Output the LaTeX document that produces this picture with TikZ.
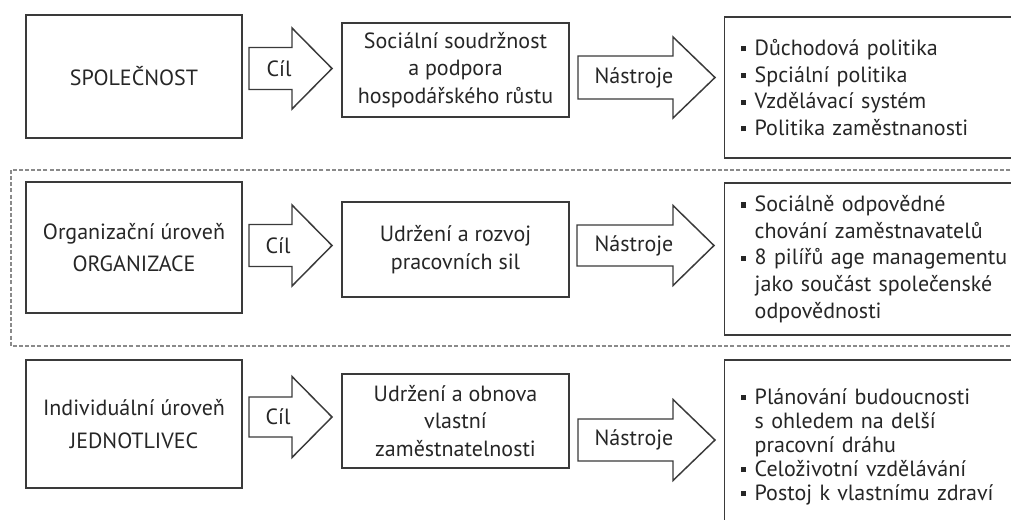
\documentclass[tikz,border=0pt]{standalone}
\usepackage{fontspec}
\setmainfont{PT Sans}
\usetikzlibrary{calc}
\definecolor{ink}{HTML}{262626}
\definecolor{edge}{HTML}{3A3A3A}
\definecolor{dashc}{HTML}{8A8A8A}
\newcommand{\bul}{\makebox[10.5pt][l]{\raisebox{0.18em}{\rule{3.8pt}{3.8pt}}}}
\newcommand{\cont}{\hspace*{10.5pt}}
% block arrow: name, x0, xhead, xtip, ycenter, shaft half, head half, label x, label
\newcommand{\blockarrow}[9]{%
  \draw[barrow] (#2,#5-#6) -- (#3,#5-#6) -- (#3,#5-#7) -- (#4,#5) -- (#3,#5+#7) -- (#3,#5+#6) -- (#2,#5+#6) -- cycle;
  \node[alabel] (#1) at (#8,#5) {#9};}
\begin{document}
\begin{tikzpicture}[x=0.75pt,y=-0.75pt,
 box/.style={draw=edge, line width=1.1pt, inner sep=0pt, text=ink, align=center, fill=white},
 lbox/.style={box, minimum width=162pt, font=\fontsize{16.5}{24.5}\selectfont},
 mbox/.style={box, minimum width=170.25pt, font=\fontsize{16.5}{20.5}\selectfont},
 rbox/.style={box, anchor=west, align=left, text width=240pt, inner xsep=12pt, font=\fontsize{16.5}{20}\selectfont},
 barrow/.style={draw=edge, line width=1.1pt, fill=white, line join=miter},
 alabel/.style={text=ink, font=\fontsize{16.5}{20}\selectfont, inner sep=0pt},
 dashbox/.style={draw=dashc, line width=0.8pt, dash pattern=on 3pt off 1.6pt}]
\useasboundingbox (0,0) rectangle (1011,519);
\clip (0,0) rectangle (1011,519);

% dashed frame of the middle level
\draw[dashbox] (11,170) rectangle (1040,346);

% row 1
\node[lbox, minimum height=92.25pt] (L1) at (134,76.5) {SPOLEČNOST};
\node[mbox, minimum height=70.5pt] (M1) at (455.5,70) {Sociální soudržnost\\a podpora\\hospodářského růstu};
\node[rbox, minimum height=105.75pt] (R1) at (724,87.5) {\bul Důchodová politika\\\bul Spciální politika\\\bul Vzdělávací systém\\\bul Politika zaměstnanosti};
\blockarrow{A1}{249}{292}{332}{68.5}{21}{40.5}{279}{Cíl}
\blockarrow{B1}{578}{673}{715}{77.5}{21.5}{40.5}{634}{Nástroje}

% row 2
\node[lbox, minimum height=98.25pt] (L2) at (134,247.5) {Organizační úroveň\\ORGANIZACE};
\node[mbox, minimum height=71.25pt] (M2) at (455.5,249.5) {Udržení a rozvoj\\pracovních sil};
\node[rbox, minimum height=114pt] (R2) at (724,259) {\bul Sociálně odpovědné\\\cont chování zaměstnavatelů\\\bul 8 pilířů age managementu\\\cont jako součást společenské\\\cont odpovědnosti};
\blockarrow{A2}{249}{292}{332}{245.5}{21}{40.5}{278}{Cíl}
\blockarrow{B2}{577}{673}{714}{245.5}{20.5}{40}{634}{Nástroje}

% row 3
\node[lbox, minimum height=96pt] (L3) at (134,424) {Individuální úroveň\\JEDNOTLIVEC};
\node[mbox, minimum height=70.5pt] (M3) at (455.5,421) {Udržení a obnova\\vlastní\\zaměstnatelnosti};
\node[rbox, minimum height=129.75pt, font=\fontsize{16.5}{18}\selectfont] (R3) at (724,446.5) {\bul Plánování budoucnosti\\\cont s ohledem na delší\\\cont pracovní dráhu\\\bul Celoživotní vzdělávání\\\bul Postoj k vlastnímu zdraví};
\blockarrow{A3}{249}{292}{332}{417}{20}{40.5}{278}{Cíl}
\blockarrow{B3}{578}{673}{715}{440}{21}{40.5}{634}{Nástroje}
\end{tikzpicture}
\end{document}
